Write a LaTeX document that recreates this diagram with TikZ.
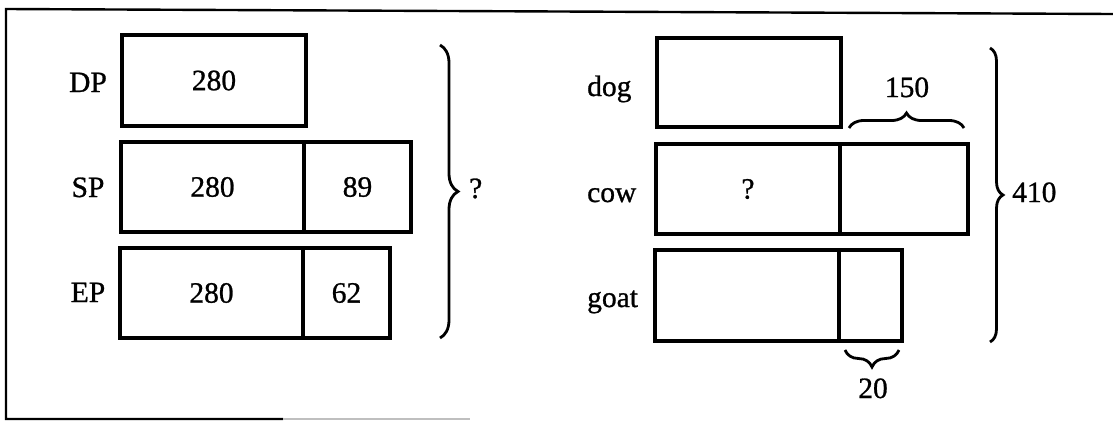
\documentclass[tikz,border=0pt]{standalone}
\usepackage{fontspec}
\setmainfont{Liberation Serif}[BoldFont={Liberation Serif},BoldFeatures={FakeBold=0.9}]
\usetikzlibrary{decorations.pathreplacing}
\begin{document}
\begin{tikzpicture}[x=1pt,y=-1pt,
  txt/.style={font=\fontsize{29.5}{35}\selectfont\bfseries},
  box/.style={draw,line width=3.2pt,inner sep=0pt,outer sep=0pt,anchor=north west,txt},
  lbl/.style={inner sep=0pt,anchor=base,txt},
  brc/.style={decorate,decoration={brace,amplitude=#1},line width=2.8pt},
  frame/.style={line width=2.4pt}
]
\useasboundingbox (0,0) rectangle (1113,421);
% frame
\coordinate (ftr) at (1113,14);
\coordinate (ftl) at (6,9);
\coordinate (fbl) at (6,419);
\coordinate (fbm) at (283,419);
\coordinate (fbe) at (470,419);
\draw[frame] (ftr) -- (ftl) -- (fbl) -- (fbm);
\draw[line width=1.2pt,black!25] (fbm) -- (fbe);

% left group
\node[box,minimum width=184pt,minimum height=91pt] (dp) at (122,35) {280};
\node[box,minimum width=183pt,minimum height=90pt] (spA) at (121,142) {280};
\node[box,minimum width=107pt,minimum height=90pt] (spB) at (304,142) {89};
\node[box,minimum width=183pt,minimum height=90pt] (epA) at (120,248) {280};
\node[box,minimum width=87pt,minimum height=90pt] (epB) at (303,248) {62};
\node[lbl] (ldp) at (88,92) {DP};
\node[lbl] (lsp) at (88,197) {SP};
\node[lbl] (lep) at (88,302) {EP};
\coordinate (bl1) at (440,45);
\coordinate (bl2) at (440,338);
\draw[brc=18pt] (bl1) -- (bl2);
\node[lbl,anchor=base west] (qleft) at (469,198) {?};

% right group
\node[box,minimum width=184pt,minimum height=89pt] (dog) at (657,38) {};
\node[box,minimum width=184pt,minimum height=90pt] (cowA) at (656,144) {?};
\node[box,minimum width=128pt,minimum height=90pt] (cowB) at (840,144) {};
\node[box,minimum width=184pt,minimum height=91pt] (goatA) at (655,250) {};
\node[box,minimum width=63pt,minimum height=91pt] (goatB) at (839,250) {};
\node[lbl,anchor=base west] (ldog) at (587,96) {dog};
\node[lbl,anchor=base west] (lcow) at (587,202) {cow};
\node[lbl,anchor=base west] (lgoat) at (587,307) {goat};

\coordinate (b150a) at (849,128);
\coordinate (b150b) at (964,128);
\draw[brc=15pt] (b150a) -- (b150b);
\node[lbl] (t150) at (907,97) {150};

\coordinate (b20a) at (899,350);
\coordinate (b20b) at (845,350);
\draw[brc=17pt] (b20a) -- (b20b);
\node[lbl] (t20) at (873,398) {20};

\coordinate (br1) at (990,48);
\coordinate (br2) at (990,342);
\draw[brc=13pt] (br1) -- (br2);
\node[lbl,anchor=base west] (t410) at (1012,202) {410};
\end{tikzpicture}
\end{document}
